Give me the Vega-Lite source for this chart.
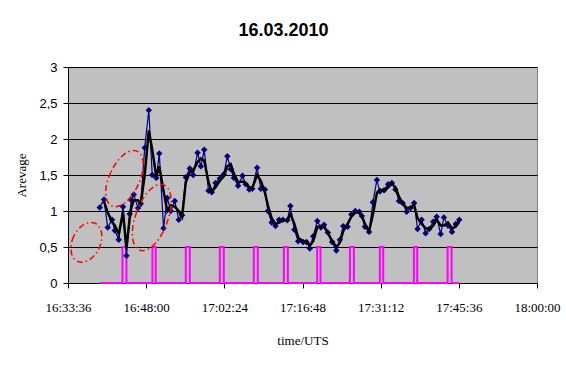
{
  "$schema": "https://vega.github.io/schema/vega-lite/v6.json",
  "width": 469,
  "height": 216,
  "autosize": {"type": "none"},
  "padding": {"left": 68, "top": 67, "right": 29, "bottom": 83},
  "background": "white",
  "title": {"text": "16.03.2010", "font": "Liberation Sans", "fontSize": 18, "fontWeight": "bold", "color": "black", "anchor": "middle", "frame": "group", "baseline": "alphabetic", "offset": 7, "dx": -19},
  "config": {
    "view": {"fill": "#C0C0C0", "stroke": "#808080", "strokeWidth": 1},
    "axis": {"domainColor": "black", "tickColor": "black", "labelColor": "black", "titleColor": "black", "tickSize": 5, "domainWidth": 1, "tickWidth": 1}
  },
  "datasets": {
    "obs": [
      {"time": "2010-03-16T16:39:27", "value": 1.05}, {"time": "2010-03-16T16:40:14", "value": 1.16}, {"time": "2010-03-16T16:40:55", "value": 0.77}, {"time": "2010-03-16T16:41:43", "value": 0.88}, {"time": "2010-03-16T16:42:13", "value": 0.73}, {"time": "2010-03-16T16:42:57", "value": 0.60}, {"time": "2010-03-16T16:43:44", "value": 1.06}, {"time": "2010-03-16T16:44:22", "value": 0.38}, {"time": "2010-03-16T16:44:58", "value": 0.96}, {"time": "2010-03-16T16:45:17", "value": 1.15}, {"time": "2010-03-16T16:45:43", "value": 1.23}, {"time": "2010-03-16T16:46:30", "value": 1.04}, {"time": "2010-03-16T16:47:00", "value": 1.10}, {"time": "2010-03-16T16:47:44", "value": 1.88}, {"time": "2010-03-16T16:48:29", "value": 2.40}, {"time": "2010-03-16T16:49:07", "value": 1.50}, {"time": "2010-03-16T16:49:52", "value": 1.46}, {"time": "2010-03-16T16:50:25", "value": 1.80}, {"time": "2010-03-16T16:51:12", "value": 0.76}, {"time": "2010-03-16T16:51:53", "value": 1.18}, {"time": "2010-03-16T16:52:32", "value": 1.00}, {"time": "2010-03-16T16:53:16", "value": 1.14}, {"time": "2010-03-16T16:54:00", "value": 0.88}, {"time": "2010-03-16T16:54:37", "value": 0.94}, {"time": "2010-03-16T16:55:18", "value": 1.47}, {"time": "2010-03-16T16:56:02", "value": 1.59}, {"time": "2010-03-16T16:56:39", "value": 1.50}, {"time": "2010-03-16T16:57:28", "value": 1.81}, {"time": "2010-03-16T16:58:04", "value": 1.62}, {"time": "2010-03-16T16:58:42", "value": 1.85}, {"time": "2010-03-16T16:59:29", "value": 1.28}, {"time": "2010-03-16T17:00:05", "value": 1.26}, {"time": "2010-03-16T17:00:47", "value": 1.39}, {"time": "2010-03-16T17:01:34", "value": 1.45}, {"time": "2010-03-16T17:02:18", "value": 1.51}, {"time": "2010-03-16T17:02:57", "value": 1.76}, {"time": "2010-03-16T17:03:35", "value": 1.58}, {"time": "2010-03-16T17:04:09", "value": 1.46}, {"time": "2010-03-16T17:04:56", "value": 1.35}, {"time": "2010-03-16T17:05:45", "value": 1.49}, {"time": "2010-03-16T17:06:21", "value": 1.37}, {"time": "2010-03-16T17:07:00", "value": 1.30}, {"time": "2010-03-16T17:07:33", "value": 1.31}, {"time": "2010-03-16T17:08:26", "value": 1.60}, {"time": "2010-03-16T17:09:07", "value": 1.31}, {"time": "2010-03-16T17:09:52", "value": 1.30}, {"time": "2010-03-16T17:10:25", "value": 1.00}, {"time": "2010-03-16T17:11:07", "value": 0.84}, {"time": "2010-03-16T17:11:50", "value": 0.79}, {"time": "2010-03-16T17:12:29", "value": 0.88}, {"time": "2010-03-16T17:13:11", "value": 0.88}, {"time": "2010-03-16T17:14:00", "value": 0.87}, {"time": "2010-03-16T17:14:34", "value": 1.07}, {"time": "2010-03-16T17:15:18", "value": 0.74}, {"time": "2010-03-16T17:16:00", "value": 0.58}, {"time": "2010-03-16T17:16:55", "value": 0.57}, {"time": "2010-03-16T17:17:31", "value": 0.57}, {"time": "2010-03-16T17:18:09", "value": 0.48}, {"time": "2010-03-16T17:18:46", "value": 0.65}, {"time": "2010-03-16T17:19:32", "value": 0.86}, {"time": "2010-03-16T17:20:11", "value": 0.77}, {"time": "2010-03-16T17:20:46", "value": 0.81}, {"time": "2010-03-16T17:21:28", "value": 0.70}, {"time": "2010-03-16T17:22:16", "value": 0.57}, {"time": "2010-03-16T17:23:02", "value": 0.45}, {"time": "2010-03-16T17:23:41", "value": 0.60}, {"time": "2010-03-16T17:24:18", "value": 0.79}, {"time": "2010-03-16T17:25:06", "value": 0.78}, {"time": "2010-03-16T17:25:48", "value": 0.95}, {"time": "2010-03-16T17:26:32", "value": 1.00}, {"time": "2010-03-16T17:27:17", "value": 0.99}, {"time": "2010-03-16T17:27:44", "value": 0.93}, {"time": "2010-03-16T17:28:18", "value": 0.78}, {"time": "2010-03-16T17:29:04", "value": 0.71}, {"time": "2010-03-16T17:29:46", "value": 1.12}, {"time": "2010-03-16T17:30:30", "value": 1.43}, {"time": "2010-03-16T17:31:03", "value": 1.27}, {"time": "2010-03-16T17:31:50", "value": 1.29}, {"time": "2010-03-16T17:32:35", "value": 1.37}, {"time": "2010-03-16T17:33:16", "value": 1.39}, {"time": "2010-03-16T17:33:55", "value": 1.30}, {"time": "2010-03-16T17:34:34", "value": 1.14}, {"time": "2010-03-16T17:35:14", "value": 1.11}, {"time": "2010-03-16T17:35:59", "value": 0.99}, {"time": "2010-03-16T17:36:43", "value": 1.04}, {"time": "2010-03-16T17:37:22", "value": 1.11}, {"time": "2010-03-16T17:38:00", "value": 0.75}, {"time": "2010-03-16T17:38:45", "value": 0.88}, {"time": "2010-03-16T17:39:29", "value": 0.69}, {"time": "2010-03-16T17:40:09", "value": 0.75}, {"time": "2010-03-16T17:40:53", "value": 0.85}, {"time": "2010-03-16T17:41:31", "value": 0.92}, {"time": "2010-03-16T17:42:15", "value": 0.68}, {"time": "2010-03-16T17:42:51", "value": 0.91}, {"time": "2010-03-16T17:43:35", "value": 0.80}, {"time": "2010-03-16T17:44:20", "value": 0.71}, {"time": "2010-03-16T17:45:01", "value": 0.82}, {"time": "2010-03-16T17:45:41", "value": 0.88}
    ],
    "avg": [
      {"time": "2010-03-16T16:40:14", "value": 1.13}, {"time": "2010-03-16T16:40:55", "value": 0.98}, {"time": "2010-03-16T16:41:43", "value": 0.85}, {"time": "2010-03-16T16:42:13", "value": 0.80}, {"time": "2010-03-16T16:42:57", "value": 0.68}, {"time": "2010-03-16T16:43:44", "value": 0.98}, {"time": "2010-03-16T16:44:22", "value": 0.48}, {"time": "2010-03-16T16:44:58", "value": 0.90}, {"time": "2010-03-16T16:45:17", "value": 1.05}, {"time": "2010-03-16T16:45:43", "value": 1.15}, {"time": "2010-03-16T16:46:30", "value": 1.15}, {"time": "2010-03-16T16:47:00", "value": 1.10}, {"time": "2010-03-16T16:47:44", "value": 1.50}, {"time": "2010-03-16T16:48:29", "value": 2.12}, {"time": "2010-03-16T16:49:07", "value": 1.85}, {"time": "2010-03-16T16:49:52", "value": 1.48}, {"time": "2010-03-16T16:50:25", "value": 1.62}, {"time": "2010-03-16T16:51:12", "value": 1.28}, {"time": "2010-03-16T16:51:53", "value": 1.00}, {"time": "2010-03-16T16:52:32", "value": 1.08}, {"time": "2010-03-16T16:53:16", "value": 1.06}, {"time": "2010-03-16T16:54:00", "value": 1.00}, {"time": "2010-03-16T16:54:37", "value": 0.92}, {"time": "2010-03-16T16:55:18", "value": 1.40}, {"time": "2010-03-16T16:56:02", "value": 1.54}, {"time": "2010-03-16T16:56:39", "value": 1.56}, {"time": "2010-03-16T16:57:28", "value": 1.68}, {"time": "2010-03-16T16:58:04", "value": 1.73}, {"time": "2010-03-16T16:58:42", "value": 1.70}, {"time": "2010-03-16T16:59:29", "value": 1.40}, {"time": "2010-03-16T17:00:05", "value": 1.27}, {"time": "2010-03-16T17:00:47", "value": 1.33}, {"time": "2010-03-16T17:01:34", "value": 1.42}, {"time": "2010-03-16T17:02:18", "value": 1.48}, {"time": "2010-03-16T17:02:57", "value": 1.62}, {"time": "2010-03-16T17:03:35", "value": 1.65}, {"time": "2010-03-16T17:04:09", "value": 1.52}, {"time": "2010-03-16T17:04:56", "value": 1.40}, {"time": "2010-03-16T17:05:45", "value": 1.41}, {"time": "2010-03-16T17:06:21", "value": 1.39}, {"time": "2010-03-16T17:07:00", "value": 1.33}, {"time": "2010-03-16T17:07:33", "value": 1.32}, {"time": "2010-03-16T17:08:26", "value": 1.50}, {"time": "2010-03-16T17:09:07", "value": 1.42}, {"time": "2010-03-16T17:09:52", "value": 1.26}, {"time": "2010-03-16T17:10:25", "value": 1.08}, {"time": "2010-03-16T17:11:07", "value": 0.90}, {"time": "2010-03-16T17:11:50", "value": 0.82}, {"time": "2010-03-16T17:12:29", "value": 0.84}, {"time": "2010-03-16T17:13:11", "value": 0.87}, {"time": "2010-03-16T17:14:00", "value": 0.87}, {"time": "2010-03-16T17:14:34", "value": 0.96}, {"time": "2010-03-16T17:15:18", "value": 0.82}, {"time": "2010-03-16T17:16:00", "value": 0.63}, {"time": "2010-03-16T17:16:55", "value": 0.58}, {"time": "2010-03-16T17:17:31", "value": 0.58}, {"time": "2010-03-16T17:18:09", "value": 0.52}, {"time": "2010-03-16T17:18:46", "value": 0.58}, {"time": "2010-03-16T17:19:32", "value": 0.78}, {"time": "2010-03-16T17:20:11", "value": 0.78}, {"time": "2010-03-16T17:20:46", "value": 0.78}, {"time": "2010-03-16T17:21:28", "value": 0.70}, {"time": "2010-03-16T17:22:16", "value": 0.58}, {"time": "2010-03-16T17:23:02", "value": 0.50}, {"time": "2010-03-16T17:23:41", "value": 0.56}, {"time": "2010-03-16T17:24:18", "value": 0.72}, {"time": "2010-03-16T17:25:06", "value": 0.82}, {"time": "2010-03-16T17:25:48", "value": 0.92}, {"time": "2010-03-16T17:26:32", "value": 0.98}, {"time": "2010-03-16T17:27:17", "value": 0.98}, {"time": "2010-03-16T17:27:44", "value": 0.93}, {"time": "2010-03-16T17:28:18", "value": 0.82}, {"time": "2010-03-16T17:29:04", "value": 0.72}, {"time": "2010-03-16T17:29:46", "value": 0.95}, {"time": "2010-03-16T17:30:30", "value": 1.25}, {"time": "2010-03-16T17:31:03", "value": 1.30}, {"time": "2010-03-16T17:31:50", "value": 1.27}, {"time": "2010-03-16T17:32:35", "value": 1.33}, {"time": "2010-03-16T17:33:16", "value": 1.38}, {"time": "2010-03-16T17:33:55", "value": 1.33}, {"time": "2010-03-16T17:34:34", "value": 1.20}, {"time": "2010-03-16T17:35:14", "value": 1.11}, {"time": "2010-03-16T17:35:59", "value": 1.04}, {"time": "2010-03-16T17:36:43", "value": 1.05}, {"time": "2010-03-16T17:37:22", "value": 1.08}, {"time": "2010-03-16T17:38:00", "value": 0.90}, {"time": "2010-03-16T17:38:45", "value": 0.82}, {"time": "2010-03-16T17:39:29", "value": 0.76}, {"time": "2010-03-16T17:40:09", "value": 0.74}, {"time": "2010-03-16T17:40:53", "value": 0.80}, {"time": "2010-03-16T17:41:31", "value": 0.88}, {"time": "2010-03-16T17:42:15", "value": 0.80}, {"time": "2010-03-16T17:42:51", "value": 0.80}, {"time": "2010-03-16T17:43:35", "value": 0.84}, {"time": "2010-03-16T17:44:20", "value": 0.76}, {"time": "2010-03-16T17:45:01", "value": 0.78}, {"time": "2010-03-16T17:45:41", "value": 0.85}
    ],
    "pulse": [
      {"time": "2010-03-16T16:39:27", "value": 0}, {"time": "2010-03-16T16:43:38", "value": 0.5}, {"time": "2010-03-16T16:44:22", "value": 0},
      {"time": "2010-03-16T16:49:09", "value": 0.5}, {"time": "2010-03-16T16:49:46", "value": 0},
      {"time": "2010-03-16T16:55:18", "value": 0.5}, {"time": "2010-03-16T16:56:02", "value": 0},
      {"time": "2010-03-16T17:01:34", "value": 0.5}, {"time": "2010-03-16T17:02:18", "value": 0},
      {"time": "2010-03-16T17:07:50", "value": 0.5}, {"time": "2010-03-16T17:08:34", "value": 0},
      {"time": "2010-03-16T17:13:22", "value": 0.5}, {"time": "2010-03-16T17:14:06", "value": 0},
      {"time": "2010-03-16T17:19:30", "value": 0.5}, {"time": "2010-03-16T17:20:07", "value": 0},
      {"time": "2010-03-16T17:25:32", "value": 0.5}, {"time": "2010-03-16T17:26:16", "value": 0},
      {"time": "2010-03-16T17:31:03", "value": 0.5}, {"time": "2010-03-16T17:31:40", "value": 0},
      {"time": "2010-03-16T17:37:19", "value": 0.5}, {"time": "2010-03-16T17:37:56", "value": 0},
      {"time": "2010-03-16T17:43:32", "value": 0.5}, {"time": "2010-03-16T17:44:16", "value": 0},
      {"time": "2010-03-16T17:45:41", "value": 0}
    ],
    "note1": [{"time": "2010-03-16T16:36:59", "value": 0.565}],
    "note2": [{"time": "2010-03-16T16:44:00", "value": 1.45}],
    "note3": [{"time": "2010-03-16T16:49:02", "value": 0.91}]
  },
  "encoding": {
    "x": {
      "field": "time", "type": "temporal",
      "scale": {"domain": [{"year": 2010, "month": 3, "date": 16, "hours": 16, "minutes": 33, "seconds": 36}, {"year": 2010, "month": 3, "date": 16, "hours": 18, "minutes": 0, "seconds": 0}]},
      "axis": {
        "title": "time/UTS", "titleFont": "Liberation Serif", "titleFontSize": 13, "titleFontWeight": "normal", "titlePadding": 20,
        "format": "%H:%M:%S", "labelFont": "Liberation Serif", "labelFontSize": 13, "labelPadding": 13, "labelFlush": false, "labelOverlap": false,
        "grid": false,
        "values": [
          {"year": 2010, "month": 3, "date": 16, "hours": 16, "minutes": 33, "seconds": 36},
          {"year": 2010, "month": 3, "date": 16, "hours": 16, "minutes": 48, "seconds": 0},
          {"year": 2010, "month": 3, "date": 16, "hours": 17, "minutes": 2, "seconds": 24},
          {"year": 2010, "month": 3, "date": 16, "hours": 17, "minutes": 16, "seconds": 48},
          {"year": 2010, "month": 3, "date": 16, "hours": 17, "minutes": 31, "seconds": 12},
          {"year": 2010, "month": 3, "date": 16, "hours": 17, "minutes": 45, "seconds": 36},
          {"year": 2010, "month": 3, "date": 16, "hours": 18, "minutes": 0, "seconds": 0}
        ]
      }
    },
    "y": {
      "field": "value", "type": "quantitative",
      "scale": {"domain": [0, 3], "nice": false, "zero": true},
      "axis": {
        "title": "Arevage", "titleFont": "Liberation Serif", "titleFontSize": 13, "titleFontWeight": "normal", "titlePadding": 10,
        "values": [0, 0.5, 1, 1.5, 2, 2.5, 3], "labelExpr": "replace(format(datum.value, '~g'), '.', ',')",
        "labelFont": "Liberation Sans", "labelFontSize": 13, "labelPadding": 6,
        "grid": true, "gridColor": "black", "gridOpacity": 1, "gridWidth": 1
      }
    }
  },
  "layer": [
    {"data": {"name": "pulse"}, "mark": {"type": "line", "interpolate": "step-after", "color": "#FF00FF", "strokeWidth": 2}},
    {"data": {"name": "obs"}, "mark": {"type": "line", "color": "#000080", "strokeWidth": 1.2, "point": {"shape": "diamond", "size": 42, "filled": true, "color": "#000080", "opacity": 1}}},
    {"data": {"name": "avg"}, "mark": {"type": "line", "color": "black", "strokeWidth": 2.5}},
    {"data": {"name": "note1"}, "mark": {"type": "point", "shape": "M -12.7 -5.9 A 14 21 25 1 0 12.7 5.9 A 14 21 25 1 0 -12.7 -5.9 Z", "size": 4, "filled": false, "stroke": "red", "strokeWidth": 1.5, "strokeDash": [6, 3, 1.5, 3], "opacity": 1}},
    {"data": {"name": "note2"}, "mark": {"type": "point", "shape": "M -13.6 -6.3 A 15 29 25 1 0 13.6 6.3 A 15 29 25 1 0 -13.6 -6.3 Z", "size": 4, "filled": false, "stroke": "red", "strokeWidth": 1.5, "strokeDash": [6, 3, 1.5, 3], "opacity": 1}},
    {"data": {"name": "note3"}, "mark": {"type": "point", "shape": "M -15 -5.5 A 16 33 20 1 0 15 5.5 A 16 33 20 1 0 -15 -5.5 Z", "size": 4, "filled": false, "stroke": "red", "strokeWidth": 1.5, "strokeDash": [6, 3, 1.5, 3], "opacity": 1}}
  ]
}
